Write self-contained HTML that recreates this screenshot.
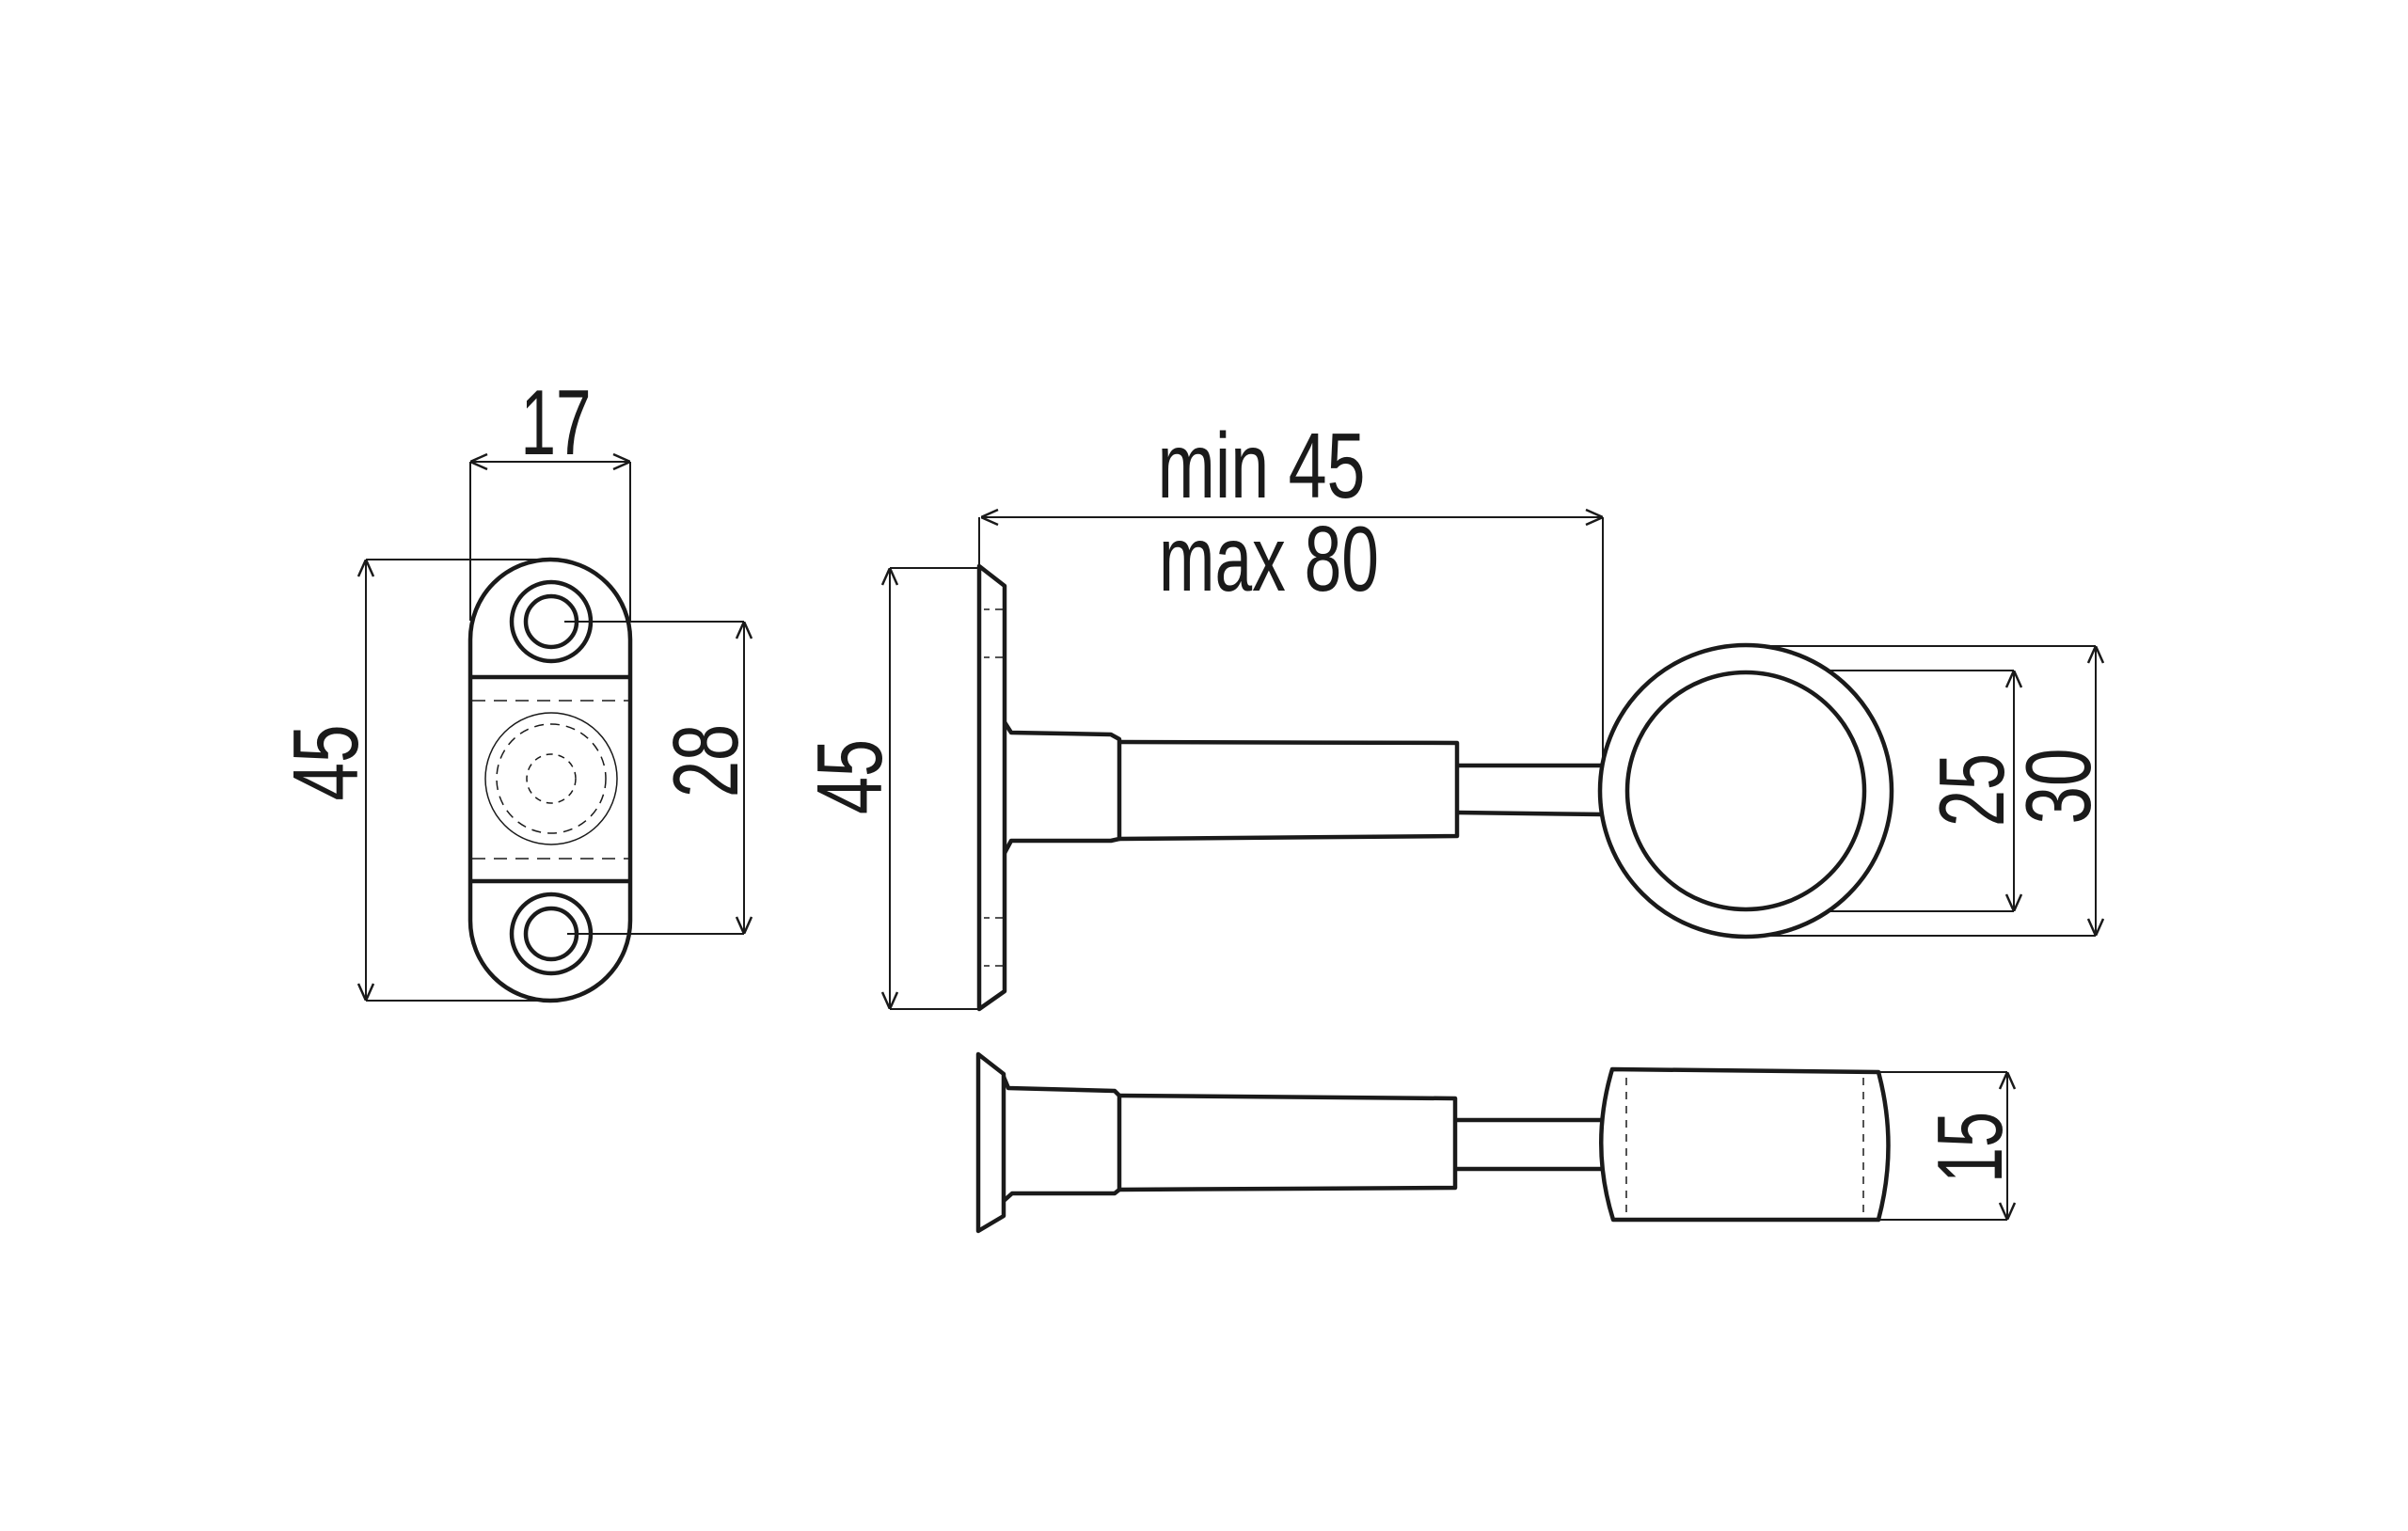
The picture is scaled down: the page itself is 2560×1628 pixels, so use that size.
<!DOCTYPE html>
<html><head><meta charset="utf-8"><style>html,body{margin:0;padding:0;background:#fff}svg{display:block}</style></head>
<body>
<svg width="2560" height="1628" viewBox="0 0 2560 1628" xmlns="http://www.w3.org/2000/svg">
<defs>
<marker id="a" viewBox="0 0 20 20" refX="20" refY="10" markerWidth="20" markerHeight="20" markerUnits="userSpaceOnUse" orient="auto-start-reverse">
<path d="M2,2 L20,10 L2,18" fill="none" stroke="#1a1a1a" stroke-width="2.5"/>
</marker>
</defs>
<g fill="none" stroke="#1a1a1a" stroke-width="2">
<!-- left view dims -->
<line x1="500" y1="491" x2="500" y2="660"/>
<line x1="670" y1="491" x2="670" y2="660"/>
<line x1="500" y1="491" x2="670" y2="491" marker-start="url(#a)" marker-end="url(#a)"/>
<line x1="389" y1="595" x2="580" y2="595"/>
<line x1="389" y1="1064" x2="580" y2="1064"/>
<line x1="389" y1="595" x2="389" y2="1064" marker-start="url(#a)" marker-end="url(#a)"/>
<line x1="600" y1="661" x2="791" y2="661"/>
<line x1="603" y1="993" x2="791" y2="993"/>
<line x1="791" y1="661" x2="791" y2="993" marker-start="url(#a)" marker-end="url(#a)"/>
<!-- side view dims -->
<line x1="1041" y1="550" x2="1041" y2="602"/>
<line x1="1704" y1="550" x2="1704" y2="815"/>
<line x1="1043" y1="550" x2="1704" y2="550" marker-start="url(#a)" marker-end="url(#a)"/>
<line x1="946" y1="604" x2="1041" y2="604"/>
<line x1="946" y1="1073" x2="1041" y2="1073"/>
<line x1="946" y1="604" x2="946" y2="1073" marker-start="url(#a)" marker-end="url(#a)"/>
<line x1="1860" y1="687" x2="2228" y2="687"/>
<line x1="1860" y1="995" x2="2228" y2="995"/>
<line x1="2228" y1="687" x2="2228" y2="995" marker-start="url(#a)" marker-end="url(#a)"/>
<line x1="1946" y1="713" x2="2141" y2="713"/>
<line x1="1946" y1="969" x2="2141" y2="969"/>
<line x1="2141" y1="713" x2="2141" y2="969" marker-start="url(#a)" marker-end="url(#a)"/>
<line x1="1997" y1="1140" x2="2134" y2="1140"/>
<line x1="1997" y1="1297" x2="2134" y2="1297"/>
<line x1="2134" y1="1140" x2="2134" y2="1297" marker-start="url(#a)" marker-end="url(#a)"/>
<!-- lens dashed -->
<circle cx="586" cy="828" r="70" stroke-width="1.5"/>
<circle cx="586" cy="828" r="58" stroke-dasharray="10 7" stroke-width="1.5"/>
<circle cx="586" cy="828" r="26" stroke-dasharray="7 6" stroke-width="1.5"/>
<line x1="502" y1="745" x2="668" y2="745" stroke-dasharray="14 9" stroke-width="1.5"/>
<line x1="502" y1="913" x2="668" y2="913" stroke-dasharray="14 9" stroke-width="1.5"/>
<!-- flange dashes -->
<g stroke-width="1.5">
<line x1="1046" y1="648" x2="1052" y2="648"/><line x1="1058" y1="648" x2="1066" y2="648"/>
<line x1="1046" y1="699" x2="1052" y2="699"/><line x1="1058" y1="699" x2="1066" y2="699"/>
<line x1="1046" y1="976" x2="1052" y2="976"/><line x1="1058" y1="976" x2="1066" y2="976"/>
<line x1="1046" y1="1027" x2="1052" y2="1027"/><line x1="1058" y1="1027" x2="1066" y2="1027"/>
<line x1="1729" y1="1146" x2="1729" y2="1290" stroke-dasharray="8 7"/>
<line x1="1981" y1="1146" x2="1981" y2="1290" stroke-dasharray="8 7"/>
</g>
</g>
<g fill="none" stroke="#1a1a1a" stroke-width="4.5" stroke-linejoin="round">
<!-- left view body -->
<rect x="500" y="595" width="170" height="469" rx="85" ry="85"/>
<line x1="500" y1="720" x2="670" y2="720"/>
<line x1="500" y1="937" x2="670" y2="937"/>
<circle cx="586" cy="661" r="42"/>
<circle cx="586" cy="661" r="27"/>
<circle cx="586" cy="993" r="42"/>
<circle cx="586" cy="993" r="27"/>
<!-- side view -->
<path d="M1041,602 L1068,623 L1068,1054 L1041,1073 Z"/>
<path d="M1068,768 L1075,779 L1181,781 L1190,786 L1190,892 L1181,894 L1075,894 L1068,907"/>
<path d="M1190,789 L1549,790 L1549,889 L1190,892"/>
<path d="M1549,814 L1704,814 M1549,864 L1704,866"/>
<circle cx="1856" cy="841" r="155"/>
<circle cx="1856" cy="841" r="126"/>
<!-- bottom view -->
<path d="M1040,1121 L1067,1142 L1067,1293 L1040,1309 Z"/>
<path d="M1067,1145 L1072,1157 L1185,1160 L1190,1165 L1190,1265 L1185,1269 L1076,1269 L1067,1277"/>
<path d="M1190,1165 L1547,1168 L1547,1263 L1190,1265"/>
<path d="M1547,1191 L1703,1191 M1547,1243 L1703,1243"/>
<path d="M1714,1137 L1997,1140 Q2018,1218 1997,1297 L1715,1297 Q1690,1217 1714,1137 Z"/>
</g>
<g font-family="Liberation Sans, sans-serif" font-size="98" fill="#1a1a1a" text-anchor="middle">
<text x="591" y="483" textLength="75" lengthAdjust="spacingAndGlyphs">17</text>
<text x="1341" y="529" textLength="221" lengthAdjust="spacingAndGlyphs">min 45</text>
<text x="1349" y="628" textLength="234" lengthAdjust="spacingAndGlyphs">max 80</text>
<text transform="translate(380,811) rotate(-90)" textLength="81" lengthAdjust="spacingAndGlyphs">45</text>
<text transform="translate(784,809) rotate(-90)" textLength="78" lengthAdjust="spacingAndGlyphs">28</text>
<text transform="translate(937,826) rotate(-90)" textLength="80" lengthAdjust="spacingAndGlyphs">45</text>
<text transform="translate(2130,840) rotate(-90)" textLength="78" lengthAdjust="spacingAndGlyphs">25</text>
<text transform="translate(2222,836) rotate(-90)" textLength="81" lengthAdjust="spacingAndGlyphs">30</text>
<text transform="translate(2128,1220) rotate(-90)" textLength="76" lengthAdjust="spacingAndGlyphs">15</text>
</g>
</svg>
</body></html>
